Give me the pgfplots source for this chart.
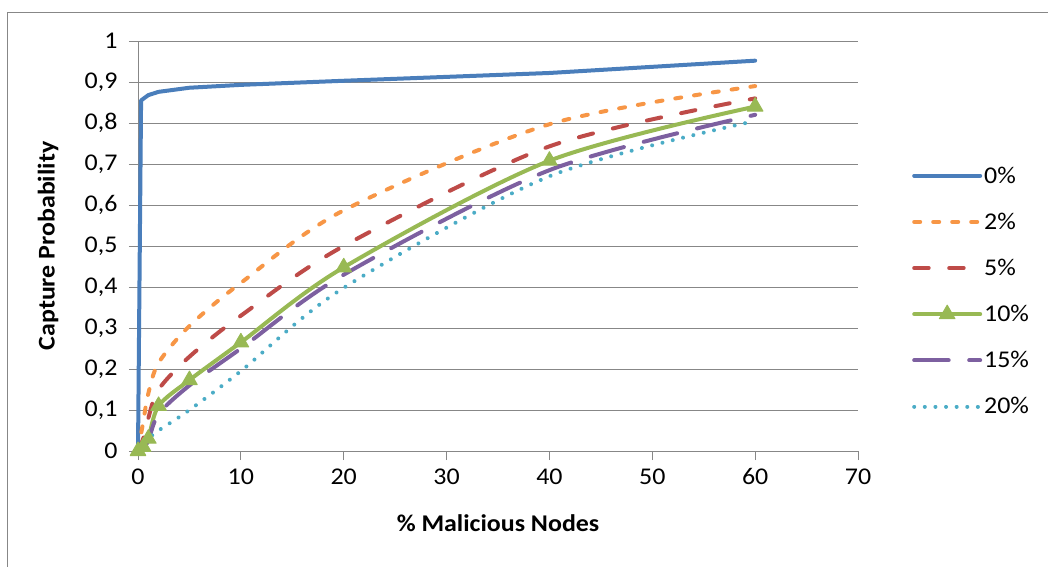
\documentclass[border=0pt]{standalone}
\usepackage{pgfplots}
\pgfplotsset{compat=1.18}
\usepackage{fontspec}
\setmainfont{Carlito}[FakeStretch=1.08]
\definecolor{c0}{HTML}{4A7EBB}
\definecolor{c2}{HTML}{F79646}
\definecolor{c5}{HTML}{BE4B48}
\definecolor{c10}{HTML}{98B954}
\definecolor{c15}{HTML}{7D60A0}
\definecolor{c20}{HTML}{4BACC6}
\definecolor{gridc}{HTML}{878787}
\newcommand{\fs}{\fontsize{24}{28}\selectfont}
\begin{document}
\begin{tikzpicture}[x=1pt,y=1pt]
\useasboundingbox (0,0) rectangle (1048,566);
\draw[gridc, line width=1.5pt] (7.5,-20) -- (7.5,553.5) -- (1070,553.5);
\begin{axis}[
  at={(138pt,115pt)}, anchor=south west,
  scale only axis, width=720pt, height=410pt,
  xmin=0, xmax=70, ymin=0, ymax=1,
  xtick={0,10,20,30,40,50,60,70},
  ytick={0,0.1,0.2,0.3,0.4,0.5,0.6,0.7,0.8,0.9,1},
  axis x line*=bottom, axis y line*=left,
  axis line style={gridc, line width=1pt},
  ymajorgrids, grid style={gridc, line width=1pt},
  tick align=outside, major tick length=9pt,
  tick style={gridc, line width=1pt},
  /pgf/number format/assume math mode=true,
  /pgf/number format/.cd, fixed, use comma, precision=1, /pgfplots/.cd,
  tick label style={font=\fs, black},
  xticklabel style={yshift=-5pt},
  yticklabel style={xshift=-8pt},
  xlabel={\bfseries \% Malicious Nodes},
  ylabel={\bfseries Capture Probability},
  label style={font=\fs},
  xlabel style={at={(axis description cs:0.5,-0.176)}, anchor=center},
  ylabel style={at={(axis description cs:-0.125,0.5)}, anchor=center, rotate=0},
  clip=false,
  legend style={at={(axis description cs:1.075,0.39)}, anchor=west, draw=none, fill=none,
    font=\fs, row sep=24.3pt, inner sep=0pt},
  legend cell align=left,
  legend image code/.code={\draw[mark repeat=2,mark phase=2,#1] plot coordinates {(0pt,0pt) (33pt,0pt) (66pt,0pt)};},
  every axis plot/.append style={line width=4pt, line cap=round, line join=round},
]
\addplot[c0, solid] coordinates {(0,0) (0.3,0.855) (1,0.868) (2,0.876) (5,0.886) (10,0.893) (20,0.903) (40,0.922) (60,0.952)};
\addlegendentry{0\%}
\addplot[c2, smooth, tension=0.5, dash pattern=on 6pt off 13pt] coordinates {(0,0) (0.5,0.07) (1,0.14) (2,0.215) (5,0.305) (10,0.41) (20,0.587) (40,0.797) (60,0.89)};
\addlegendentry{2\%}
\addplot[c5, smooth, tension=0.5, dash pattern=on 14.5pt off 20.5pt] coordinates {(0,0) (0.5,0.03) (1,0.08) (2,0.15) (5,0.23) (10,0.33) (20,0.50) (40,0.743) (60,0.86)};
\addlegendentry{5\%}
\addplot[c10, smooth, tension=0.5, solid, mark=triangle*, mark size=9pt, mark options={solid, fill=c10, draw=c10, line width=1pt}] coordinates {(0,0) (0.5,0.01) (1,0.03) (2,0.11) (5,0.173) (10,0.265) (20,0.448) (40,0.708) (60,0.84)};
\addlegendentry{10\%}
\addplot[c15, smooth, tension=0.5, dash pattern=on 34.5pt off 20.5pt] coordinates {(0,0) (0.5,0.01) (1,0.025) (2,0.09) (5,0.16) (10,0.25) (20,0.43) (40,0.685) (60,0.82)};
\addlegendentry{15\%}
\addplot[c20, smooth, tension=0.5, dash pattern=on 0.01pt off 10.6pt] coordinates {(0,0) (0.5,0.015) (1,0.03) (2,0.05) (5,0.10) (10,0.195) (20,0.398) (40,0.67) (60,0.805)};
\addlegendentry{20\%}
\end{axis}
\end{tikzpicture}
\end{document}
